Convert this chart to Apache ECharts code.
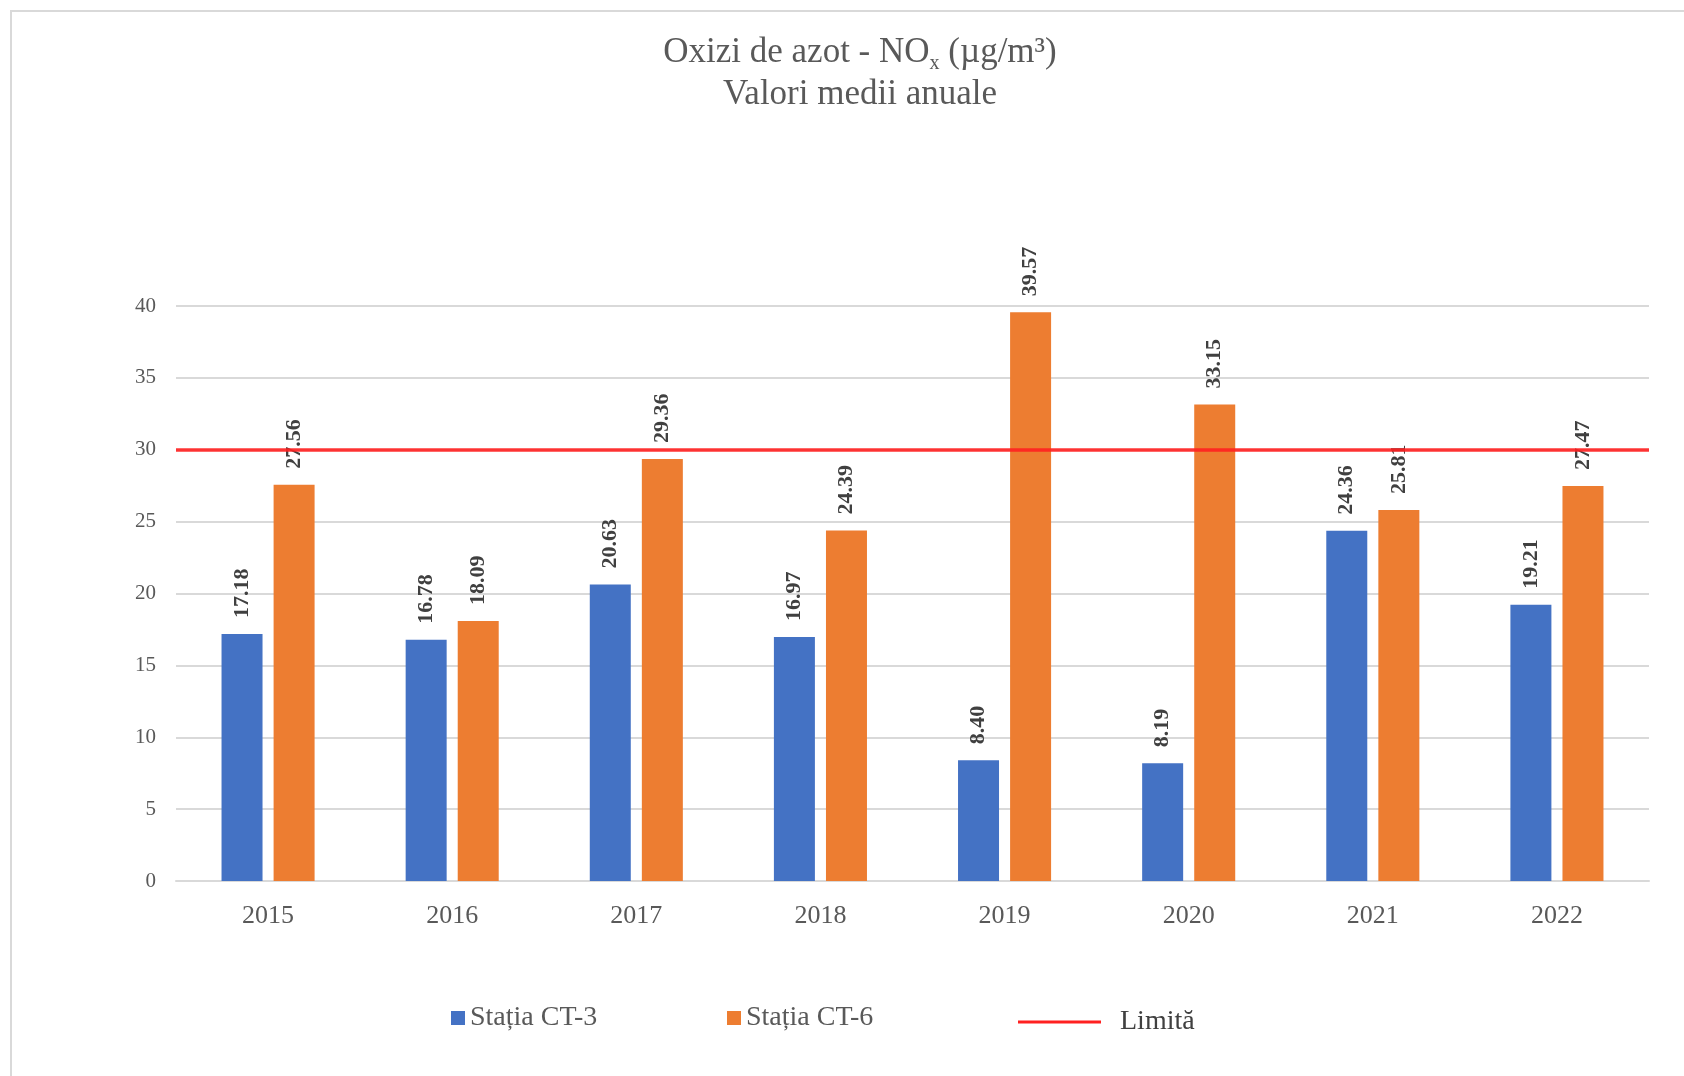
<!DOCTYPE html>
<html>
<head>
<meta charset="utf-8">
<script src="https://cdn.jsdelivr.net/npm/echarts@6/dist/echarts.min.js"></script>
<style>
html,body{margin:0;padding:0;background:#fff;}
#chart{width:1684px;height:1076px;}
</style>
</head>
<body>
<div id="chart"></div>
<script>
const years = ['2015','2016','2017','2018','2019','2020','2021','2022'];
const ct3 = [17.18, 16.78, 20.63, 16.97, 8.40, 8.19, 24.36, 19.21];
const ct6 = [27.56, 18.09, 29.36, 24.39, 39.57, 33.15, 25.81, 27.47];
const limit = 30;
const yTicks = [0, 5, 10, 15, 20, 25, 30, 35, 40];

const serif = '"Liberation Serif", "DejaVu Serif", serif';
const chart = echarts.init(document.getElementById('chart'));

const labelCfg = {
  show: true,
  position: 'top',
  rotate: 90,
  align: 'left',
  verticalAlign: 'middle',
  distance: 16,
  fontFamily: serif,
  fontWeight: 'bold',
  fontSize: 22,
  color: '#404040',
  formatter: p => p.value.toFixed(2)
};

chart.setOption({
  animation: false,
  backgroundColor: '#fff',
  graphic: [{
    type: 'rect',
    shape: {x: 11, y: 11, width: 1720, height: 1120},
    style: {fill: 'none', stroke: '#d9d9d9', lineWidth: 2},
    silent: true
  }],
  title: {
    text: '{a|Oxizi de azot - NO}{s|x}{a| (µg/m³)}\n{a|Valori medii anuale}',
    left: 855,
    textAlign: 'center',
    top: 27,
    textStyle: {
      fontWeight: 'normal',
      rich: {
        a: {fontFamily: serif, fontSize: 35, fontWeight: 'normal', color: '#595959', lineHeight: 42, align: 'center'},
        s: {fontFamily: serif, fontSize: 20, fontWeight: 'normal', color: '#595959', verticalAlign: 'bottom', lineHeight: 42, padding: [15, 0, 0, 0]}
      }
    }
  },
  legend: [
    {data: [{name: 'Stația CT-3', icon: 'rect'}], left: 446, top: 999, itemWidth: 14, itemHeight: 14,
     textStyle: {fontFamily: serif, fontSize: 28, color: '#595959'}},
    {data: [{name: 'Stația CT-6', icon: 'rect'}], left: 722, top: 999, itemWidth: 14, itemHeight: 14,
     textStyle: {fontFamily: serif, fontSize: 28, color: '#595959'}},
    {data: [{name: 'Limită', icon: 'rect'}], left: 1013, top: 1003, itemWidth: 83, itemHeight: 3,
     textStyle: {fontFamily: serif, fontSize: 28, color: '#404040', padding: [0, 0, 0, 14]}}
  ],
  grid: {left: 176, right: 35, top: 306, bottom: 195},
  xAxis: {
    type: 'category',
    data: years,
    axisLine: {lineStyle: {color: '#d9d9d9', width: 2}},
    axisTick: {show: false},
    axisLabel: {fontFamily: serif, fontSize: 26, color: '#595959', margin: 22}
  },
  yAxis: {
    type: 'value',
    min: yTicks[0],
    max: yTicks[yTicks.length - 1],
    interval: 5,
    axisLine: {show: false},
    axisTick: {show: false},
    splitLine: {lineStyle: {color: '#d9d9d9', width: 2}},
    axisLabel: {fontFamily: serif, fontSize: 21, color: '#595959', margin: 20}
  },
  series: [
    {name: 'Stația CT-3', type: 'bar', data: ct3, barWidth: 41, barGap: '27%',
     itemStyle: {color: '#4472C4'}, label: labelCfg},
    {name: 'Stația CT-6', type: 'bar', data: ct6, barWidth: 41,
     itemStyle: {color: '#ED7D31'}, label: labelCfg},
    {name: 'Limită', type: 'line', data: [], itemStyle: {color: '#FF2020'},
     lineStyle: {color: '#FF2020', width: 3},
     markLine: {silent: true, symbol: 'none', label: {show: false},
       lineStyle: {color: '#FF2020', width: 3.5, type: 'solid', opacity: 0.9},
       data: [{yAxis: limit}]}}
  ]
});
</script>
</body>
</html>
